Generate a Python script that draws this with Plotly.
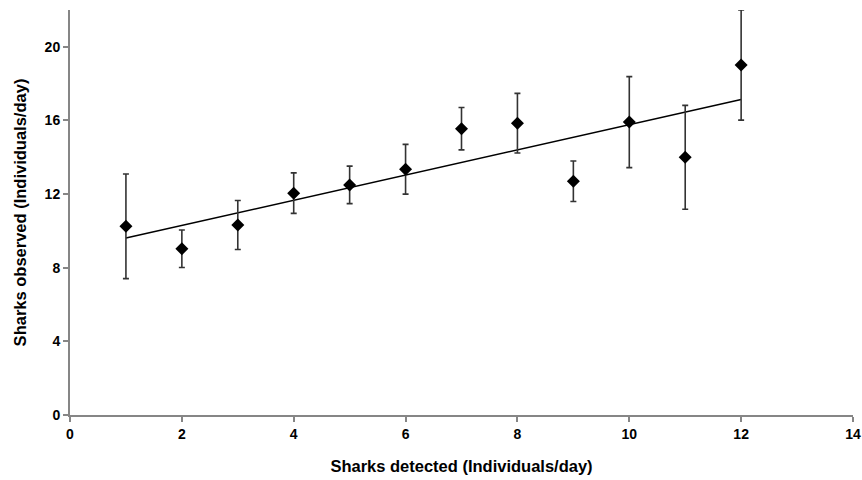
import numpy as np
import plotly.graph_objects as go

x_detected = [1, 2, 3, 4, 5, 6, 7, 8, 9, 10, 11, 12]
y_observed = [10.25, 9.03, 10.32, 12.05, 12.5, 13.35, 15.55, 15.85, 12.7, 15.91, 14.0, 19.01]
y_error = [2.84, 1.02, 1.33, 1.1, 1.02, 1.35, 1.15, 1.62, 1.1, 2.47, 2.82, 2.99]
x_ticks = [0, 2, 4, 6, 8, 10, 12, 14]
y_ticks = [0, 4, 8, 12, 16, 20]

slope, intercept = np.polyfit(x_detected, y_observed, 1)
trend_x = [min(x_detected), max(x_detected)]
trend_y = [intercept + slope * v for v in trend_x]

fig = go.Figure()
fig.add_trace(go.Scatter(
    x=trend_x, y=trend_y, mode="lines",
    line=dict(color="black", width=1.5), hoverinfo="skip", showlegend=False))
fig.add_trace(go.Scatter(
    x=x_detected, y=y_observed, mode="markers", cliponaxis=False,
    marker=dict(symbol="diamond", size=10, color="black"),
    error_y=dict(type="data", array=y_error, visible=True, color="#333333",
                 thickness=1.6, width=3),
    showlegend=False))

axis_font = dict(family="Liberation Sans, Arial, sans-serif", size=14, color="black")
title_font = dict(family="Liberation Sans, Arial, sans-serif", size=16.5, color="black")

fig.update_layout(
    width=862, height=480,
    margin=dict(l=70, r=9, t=10, b=65, autoexpand=False),
    plot_bgcolor="white", paper_bgcolor="white",
    xaxis=dict(
        range=[0, 14], tickvals=x_ticks, ticktext=[f"<b>{v}</b>" for v in x_ticks],
        showgrid=False, zeroline=False, showline=True, linecolor="#868686", linewidth=2,
        ticks="outside", ticklen=5, tickcolor="#868686", tickwidth=2,
        tickfont=axis_font,
        title=dict(text="<b>Sharks detected (Individuals/day)</b>", font=title_font, standoff=20)),
    yaxis=dict(
        range=[0, 22], tickvals=y_ticks, ticktext=[f"<b>{v}</b>" for v in y_ticks],
        showgrid=False, zeroline=False, showline=True, linecolor="#868686", linewidth=2,
        ticks="outside", ticklen=5, tickcolor="#868686", tickwidth=2,
        tickfont=axis_font,
        title=dict(text="<b>Sharks observed (Individuals/day)</b>", font=title_font, standoff=14)),
)

fig.write_html("out.html", config={"displayModeBar": False},
               post_script="document.body.style.margin='0';document.body.style.overflow='hidden';")
